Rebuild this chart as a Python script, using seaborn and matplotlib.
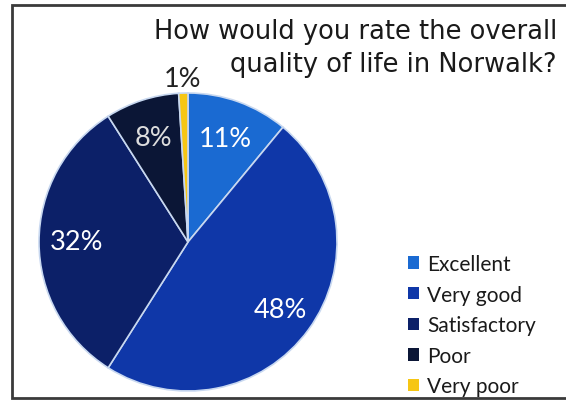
import matplotlib
matplotlib.use("Agg")
import matplotlib.pyplot as plt
import matplotlib.patches as mpatches
import numpy as np
import seaborn as sns

# ============================================================
# DATA
# ============================================================
categories = ["Excellent", "Very good", "Satisfactory", "Poor", "Very poor"]
shares = [11, 48, 32, 8, 1]
pct_labels = ["11%", "48%", "32%", "8%", "1%"]
colors = ["#1a6ad2", "#0f37a8", "#0c2068", "#0b1636", "#f6c614"]
label_dist = [0.74, 0.77, 0.75, 0.74, 1.10]
label_colors = ["white", "white", "white", "#dddddd", "#222222"]

title_lines = ["How would you rate the overall", "quality of life in Norwalk?"]

# ============================================================
# FIGURE
# ============================================================
sns.set_theme(style="white")
plt.rcParams["font.family"] = ["Liberation Sans", "DejaVu Sans"]

fig = plt.figure(figsize=(5.66, 4.02), dpi=100)
fig.patch.set_facecolor("white")

# square axes, pie centre placed left of the legend
W, H = 566, 402
cx, cy, r_px = 188, 159, 149
half = r_px * 1.06
ax = fig.add_axes([(cx - half) / W, (cy - half) / H, 2 * half / W, 2 * half / H])

wedges, _ = ax.pie(
    shares,
    colors=colors,
    startangle=90,
    counterclock=False,
    radius=1.0,
    wedgeprops=dict(edgecolor="#c8d8f0", linewidth=1.2),
)
ax.set_xlim(-1.06, 1.06)
ax.set_ylim(-1.06, 1.06)
ax.set_aspect("equal")
ax.axis("off")

# percentage labels at mid angle of each wedge
for w, lab, d, c in zip(wedges, pct_labels, label_dist, label_colors):
    ang = np.deg2rad((w.theta1 + w.theta2) / 2)
    ax.text(d * np.cos(ang), d * np.sin(ang), lab, ha="center", va="center",
            fontsize=19.5, color=c, family=["Lato", "DejaVu Sans"])

# title, two right aligned lines at top right
for line, base_y in zip(title_lines, [39, 72]):
    fig.text(557 / W, 1 - base_y / H, line, ha="right", va="baseline",
             fontsize=18.5, color="#1a1a1a", family=["DejaVu Sans"])

# legend
handles = [mpatches.Patch(facecolor=c, edgecolor="none") for c in colors]
leg = fig.legend(handles, categories, loc="lower left",
                 bbox_to_anchor=(393 / W, -10 / H), frameon=False,
                 handlelength=0.55, handleheight=0.55, handletextpad=0.4,
                 labelspacing=0.51, borderpad=0.2,
                 prop=dict(family="Lato", size=15))
for t in leg.get_texts():
    t.set_color("#1a1a1a")

# outer frame
frame = mpatches.Rectangle((12 / W, 3 / H), (W - 11) / W, (H - 9) / H,
                           transform=fig.transFigure, fill=False,
                           edgecolor="#3a3a3a", linewidth=2, clip_on=False)
fig.patches.append(frame)

fig.savefig("out.png", dpi=100, facecolor="white")
